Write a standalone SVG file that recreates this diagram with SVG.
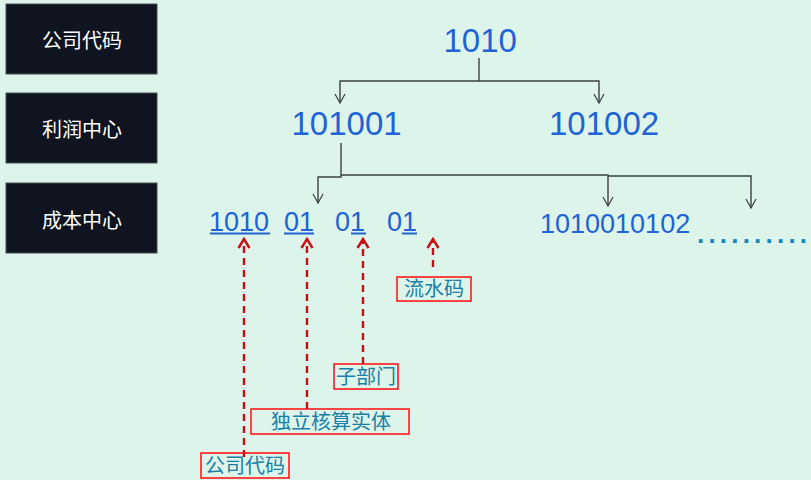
<svg xmlns="http://www.w3.org/2000/svg" width="811" height="480" viewBox="0 0 811 480">
<defs>
<style>
.hdr rect{fill:#0f1420;stroke:#4a4f55;stroke-width:1}
.hdr text{fill:#ffffff;font-family:"Noto Sans CJK SC","Noto Sans",sans-serif;font-size:20px;text-anchor:middle}
.code{fill:#2063d6;font-family:"Liberation Sans",Arial,sans-serif}
.ul{stroke:#2063d6;stroke-width:2}
.lbl rect{fill:none;stroke:#ff1a1a;stroke-width:1.6}
.lbl text{fill:#1a7fa6;font-family:"Noto Sans CJK SC","Noto Sans",sans-serif;font-size:20px;text-anchor:middle}
.tree{fill:none;stroke:#3c4044;stroke-width:1.4}
.red{fill:none;stroke:#c80f14;stroke-width:2.4;stroke-dasharray:7 5}
</style>
<marker id="ga" markerUnits="userSpaceOnUse" viewBox="-11 -7 13 14" refX="0" refY="0" markerWidth="13" markerHeight="14" orient="auto">
<path d="M-9,-5 L0,0 L-9,5" fill="none" stroke="#3c4044" stroke-width="1.2"/>
</marker>
<marker id="ra" markerUnits="userSpaceOnUse" viewBox="-12 -8 14 16" refX="0" refY="0" markerWidth="14" markerHeight="16" orient="auto">
<path d="M-9,-5.5 L0,0 L-9,5.5" fill="none" stroke="#c80f14" stroke-width="2.4"/>
</marker>
</defs>
<rect width="811" height="480" fill="#dcf4ea"/>
<g id="hdr-company" class="hdr"><rect x="6" y="4" width="151" height="70"/><text x="82" y="48">公司代码</text></g>
<g id="hdr-profit" class="hdr"><rect x="6" y="93" width="151" height="70"/><text x="82" y="137">利润中心</text></g>
<g id="hdr-cost" class="hdr"><rect x="6" y="183" width="151" height="70"/><text x="82" y="228">成本中心</text></g>

<g id="node-1010"><text class="code" x="443.5" y="52" font-size="33">1010</text></g>
<g id="node-101001"><text class="code" x="291.5" y="135" font-size="33">101001</text></g>
<g id="node-101002"><text class="code" x="549" y="135" font-size="33">101002</text></g>
<g id="node-cost1">
<text class="code" x="209" y="231" font-size="27">1010</text>
<text class="code" x="284" y="231" font-size="27">01</text>
<text class="code" x="335" y="231" font-size="27">01</text>
<text class="code" x="387" y="231" font-size="27">01</text>
<line class="ul" x1="210" y1="233.5" x2="270" y2="233.5"/>
<line class="ul" x1="284" y1="233.5" x2="314" y2="233.5"/>
<line class="ul" x1="351" y1="233.5" x2="366" y2="233.5"/>
<line class="ul" x1="402" y1="233.5" x2="417" y2="233.5"/>
</g>
<g id="node-cost2"><text class="code" x="540" y="233" font-size="27">1010010102</text></g>
<g id="node-more"><text x="697" y="243" font-family="Liberation Sans,Arial,sans-serif" font-size="26" font-weight="bold" letter-spacing="4.2" fill="#1388c0">..........</text></g>

<g id="lbl-serial" class="lbl"><rect x="397" y="277" width="74" height="24"/><text x="434" y="296">流水码</text></g>
<g id="lbl-subdept" class="lbl"><rect x="334" y="364" width="64" height="25"/><text x="366" y="384">子部门</text></g>
<g id="lbl-entity" class="lbl"><rect x="251" y="409" width="158" height="25"/><text x="331" y="429">独立核算实体</text></g>
<g id="lbl-company" class="lbl"><rect x="201" y="453" width="88" height="25"/><text x="245" y="473">公司代码</text></g>

<g id="connectors">
<path class="tree" d="M479,58 V81"/>
<path class="tree" d="M479,81 H340 V103" marker-end="url(#ga)"/>
<path class="tree" d="M479,81 H599 V103" marker-end="url(#ga)"/>
<path class="tree" d="M341,143 V177 H318 V203" marker-end="url(#ga)"/>
<path class="tree" d="M341,175 H608 V206" marker-end="url(#ga)"/>
<path class="tree" d="M608,176 H751 V208" marker-end="url(#ga)"/>
<path class="red" d="M244,457 V239" marker-end="url(#ra)"/>
<path class="red" d="M307,409 V239" marker-end="url(#ra)"/>
<path class="red" d="M363,364 V239" marker-end="url(#ra)"/>
<path class="red" d="M433,267 V239" marker-end="url(#ra)"/>
</g>
</svg>
